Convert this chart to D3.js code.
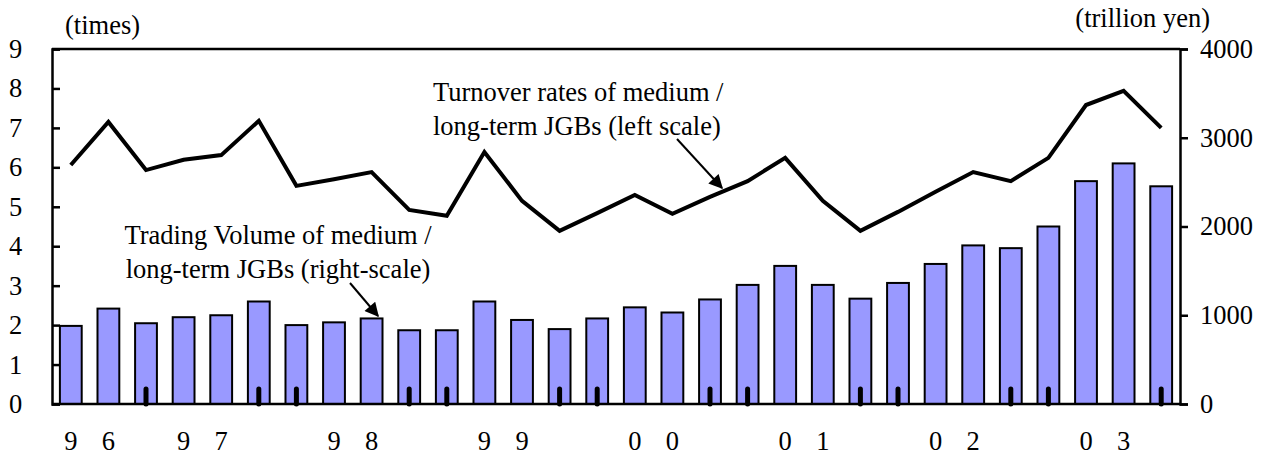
<!DOCTYPE html>
<html>
<head>
<meta charset="utf-8">
<title>JGB turnover</title>
<script src="https://cdn.jsdelivr.net/npm/d3@7"></script>
<style>
	body { margin: 0; background: #fff; }
	svg text { font-family: "Liberation Serif", "Times New Roman", Times, "DejaVu Serif", serif !important; fill: #000; }
</style>
</head>
<body>
<div id="chart"></div>
<script>
// one label character per bar (year digits spread over two bars)
var categories = ["9","6","","9","7","","","9","8","","","9","9","","","0","0","","","0","1","","","0","2","","","0","3",""];
// trading volume, trillion yen (right scale)
var volume = [880, 1075, 910, 978, 1000, 1155, 889, 920, 964, 831, 831, 1155, 947, 844, 964,
	1089, 1031, 1178, 1342, 1556, 1342, 1187, 1364, 1578, 1787, 1756, 2000, 2511, 2711, 2453];
// turnover rate, times (left scale)
var turnover = [6.06, 7.15, 5.93, 6.19, 6.31, 7.18, 5.53, 5.70, 5.88, 4.92, 4.77, 6.39, 5.15, 4.39, 4.84,
	5.30, 4.82, 5.25, 5.65, 6.24, 5.15, 4.39, 4.87, 5.38, 5.88, 5.65, 6.24, 7.58, 7.94, 7.00];
// bars carrying a small tick stub at the base
var stubIdx = [2, 5, 6, 9, 10, 13, 14, 17, 18, 21, 22, 25, 26, 29];
var leftTicks = [0, 1, 2, 3, 4, 5, 6, 7, 8, 9];
var rightTicks = [0, 1000, 2000, 3000, 4000];

var width = 1273, height = 456;
var margin = {top: 49, right: 93, bottom: 52, left: 52};
var innerW = width - margin.left - margin.right;
var innerH = height - margin.top - margin.bottom;
var fs = "26.5px";

var svg = d3.select("#chart").append("svg")
	.attr("width", width)
	.attr("height", height);

var g = svg.append("g")
	.attr("transform", "translate(" + margin.left + "," + margin.top + ")");

var x = d3.scaleBand()
	.domain(d3.range(categories.length))
	.range([0, innerW])
	.paddingInner(0.42)
	.paddingOuter(0.21);

var yL = d3.scaleLinear().domain([0, 9]).range([innerH, 0]);
var yR = d3.scaleLinear().domain([0, 4000]).range([innerH, 0]);

// bars
g.selectAll(".bar")
	.data(volume)
	.enter()
		.append("rect")
		.attr("class", "bar")
		.attr("x", function(d, i) { return x(i); })
		.attr("y", function(d) { return yR(d); })
		.attr("width", x.bandwidth())
		.attr("height", function(d) { return innerH - yR(d); })
		.attr("fill", "#9999ff")
		.attr("stroke", "#000")
		.attr("stroke-width", 2);

// tick stubs at base
g.selectAll(".stub")
	.data(stubIdx)
	.enter()
		.append("line")
		.attr("x1", function(d) { return x(d) + x.bandwidth() / 2; })
		.attr("x2", function(d) { return x(d) + x.bandwidth() / 2; })
		.attr("y1", innerH - 15)
		.attr("y2", innerH)
		.attr("stroke", "#000")
		.attr("stroke-width", 5)
		.attr("stroke-linecap", "round");

// turnover line
var line = d3.line()
	.x(function(d, i) { return x(i) + x.bandwidth() / 2; })
	.y(function(d) { return yL(d); });

g.append("path")
	.datum(turnover)
	.attr("d", line)
	.attr("fill", "none")
	.attr("stroke", "#000")
	.attr("stroke-width", 4)
	.attr("stroke-linejoin", "miter");

// frame: top border
g.append("line")
	.attr("x1", 0).attr("x2", innerW)
	.attr("y1", 0).attr("y2", 0)
	.attr("stroke", "#000").attr("stroke-width", 2.5);

// left axis (ticks pointing inward)
var axL = g.append("g")
	.call(d3.axisLeft(yL).tickValues(leftTicks).tickSize(-8).tickPadding(26).tickFormat(d3.format("d")));
// right axis (ticks pointing out)
var axR = g.append("g")
	.attr("transform", "translate(" + innerW + ",0)")
	.call(d3.axisRight(yR).tickValues(rightTicks).tickSize(8).tickPadding(12).tickFormat(d3.format("d")));

[axL, axR].forEach(function(ax) {
	ax.attr("font-family", null);
	ax.select(".domain").attr("stroke", "#000").attr("stroke-width", 2.5);
	ax.selectAll(".tick line").attr("stroke", "#000").attr("stroke-width", 2.5);
	ax.selectAll(".tick text").style("font-size", fs);
});
axL.selectAll(".tick text").attr("text-anchor", "start").attr("x", -43);

// bottom axis line
g.append("line")
	.attr("x1", 0).attr("x2", innerW)
	.attr("y1", innerH).attr("y2", innerH)
	.attr("stroke", "#000").attr("stroke-width", 2.5);

// category labels
g.selectAll(".cat")
	.data(categories)
	.enter()
		.append("text")
		.attr("x", function(d, i) { return x(i) + x.bandwidth() / 2; })
		.attr("y", innerH + 46)
		.attr("text-anchor", "middle")
		.style("font-size", fs)
		.text(function(d) { return d; });

// unit labels
svg.append("text").attr("x", 65).attr("y", 34).style("font-size", fs).text("(times)");
svg.append("text").attr("x", 1210).attr("y", 27).attr("text-anchor", "end").style("font-size", fs).text("(trillion yen)");

// arrow marker
svg.append("defs").append("marker")
	.attr("id", "arrow")
	.attr("viewBox", "0 0 10 10")
	.attr("refX", 9).attr("refY", 5)
	.attr("markerWidth", 16).attr("markerHeight", 14)
	.attr("markerUnits", "userSpaceOnUse")
	.attr("orient", "auto")
	.append("path")
		.attr("d", "M0,0 L10,5 L0,10 z")
		.attr("fill", "#000");

function note(lines, tx, y0, anchor, arrow) {
	var t = svg.append("text")
		.attr("text-anchor", anchor)
		.style("font-size", fs);
	lines.forEach(function(s, i) {
		t.append("tspan").attr("x", tx).attr("y", y0 + i * 34).text(s);
	});
	svg.append("line")
		.attr("x1", arrow[0]).attr("y1", arrow[1])
		.attr("x2", arrow[2]).attr("y2", arrow[3])
		.attr("stroke", "#000").attr("stroke-width", 2)
		.attr("marker-end", "url(#arrow)");
}

note(["Turnover rates of medium /", "long-term JGBs (left scale)"], 433, 101, "start", [677, 139, 722, 188]);
note(["Trading Volume of medium /", "long-term JGBs (right-scale)"], 278, 244, "middle", [350, 283, 378, 316]);
</script>
</body>
</html>
